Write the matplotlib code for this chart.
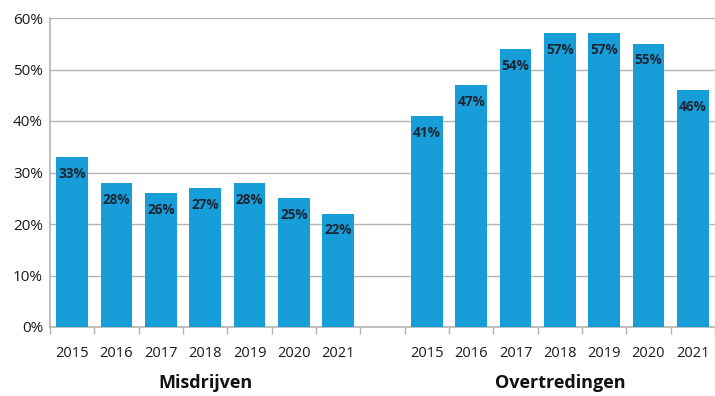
import matplotlib.pyplot as plt
import numpy as np

plt.rcParams['font.family'] = ['Open Sans', 'DejaVu Sans']

years = ['2015', '2016', '2017', '2018', '2019', '2020', '2021']
misdrijven = [33, 28, 26, 27, 28, 25, 22]
overtredingen = [41, 47, 54, 57, 57, 55, 46]
groups = ['Misdrijven', 'Overtredingen']

blue = '#179dd8'
grid_grey = '#b4b4b4'

# one empty slot between the two groups
x_mis = np.arange(len(years))
x_ovt = np.arange(len(years)) + len(years) + 1
n_slots = 2 * len(years) + 1

fig = plt.figure(figsize=(7.15, 3.96), dpi=100)
ax = fig.add_axes([50 / 715, 1 - 327 / 396, 665 / 715, 309 / 396])

for xs, vals in [(x_mis, misdrijven), (x_ovt, overtredingen)]:
    bars = ax.bar(xs, vals, width=0.72, color=blue, zorder=3)
    for b, v in zip(bars, vals):
        ax.annotate(f'{v}%', (b.get_x() + b.get_width() / 2, v),
                    xytext=(0, -7), textcoords='offset points',
                    ha='center', va='top', fontsize=9.8, fontweight='bold',
                    color='#1b2634', zorder=4)

ax.set_xlim(-0.5, n_slots - 0.5)
ax.set_ylim(0, 60)
ax.set_yticks(range(0, 61, 10))
ax.set_yticklabels([f'{t}%' for t in range(0, 61, 10)], fontsize=11, color='#1a1a1a')
ax.yaxis.grid(True, color=grid_grey, linewidth=1, zorder=0)

# year labels under bars, tick marks on slot boundaries
ax.set_xticks(list(x_mis) + list(x_ovt))
ax.set_xticklabels(years + years, fontsize=10.5, color='#1a1a1a')
ax.set_xticks(np.arange(-0.5, n_slots, 1.0), minor=True)
ax.tick_params(axis='x', which='major', length=0, pad=14)
ax.tick_params(axis='x', which='minor', length=5, color=grid_grey, width=1)
ax.tick_params(axis='y', length=0, pad=5)

for s in ['top', 'right']:
    ax.spines[s].set_visible(False)
for s in ['left', 'bottom']:
    ax.spines[s].set_color(grid_grey)
    ax.spines[s].set_linewidth(1.2)

for name, xs in zip(groups, [x_mis, x_ovt]):
    ax.text(xs.mean(), -0.18, name, transform=ax.get_xaxis_transform(),
            ha='center', va='center', fontsize=13, fontweight='bold', color='#111111')

fig.savefig('out.png', dpi=100)
